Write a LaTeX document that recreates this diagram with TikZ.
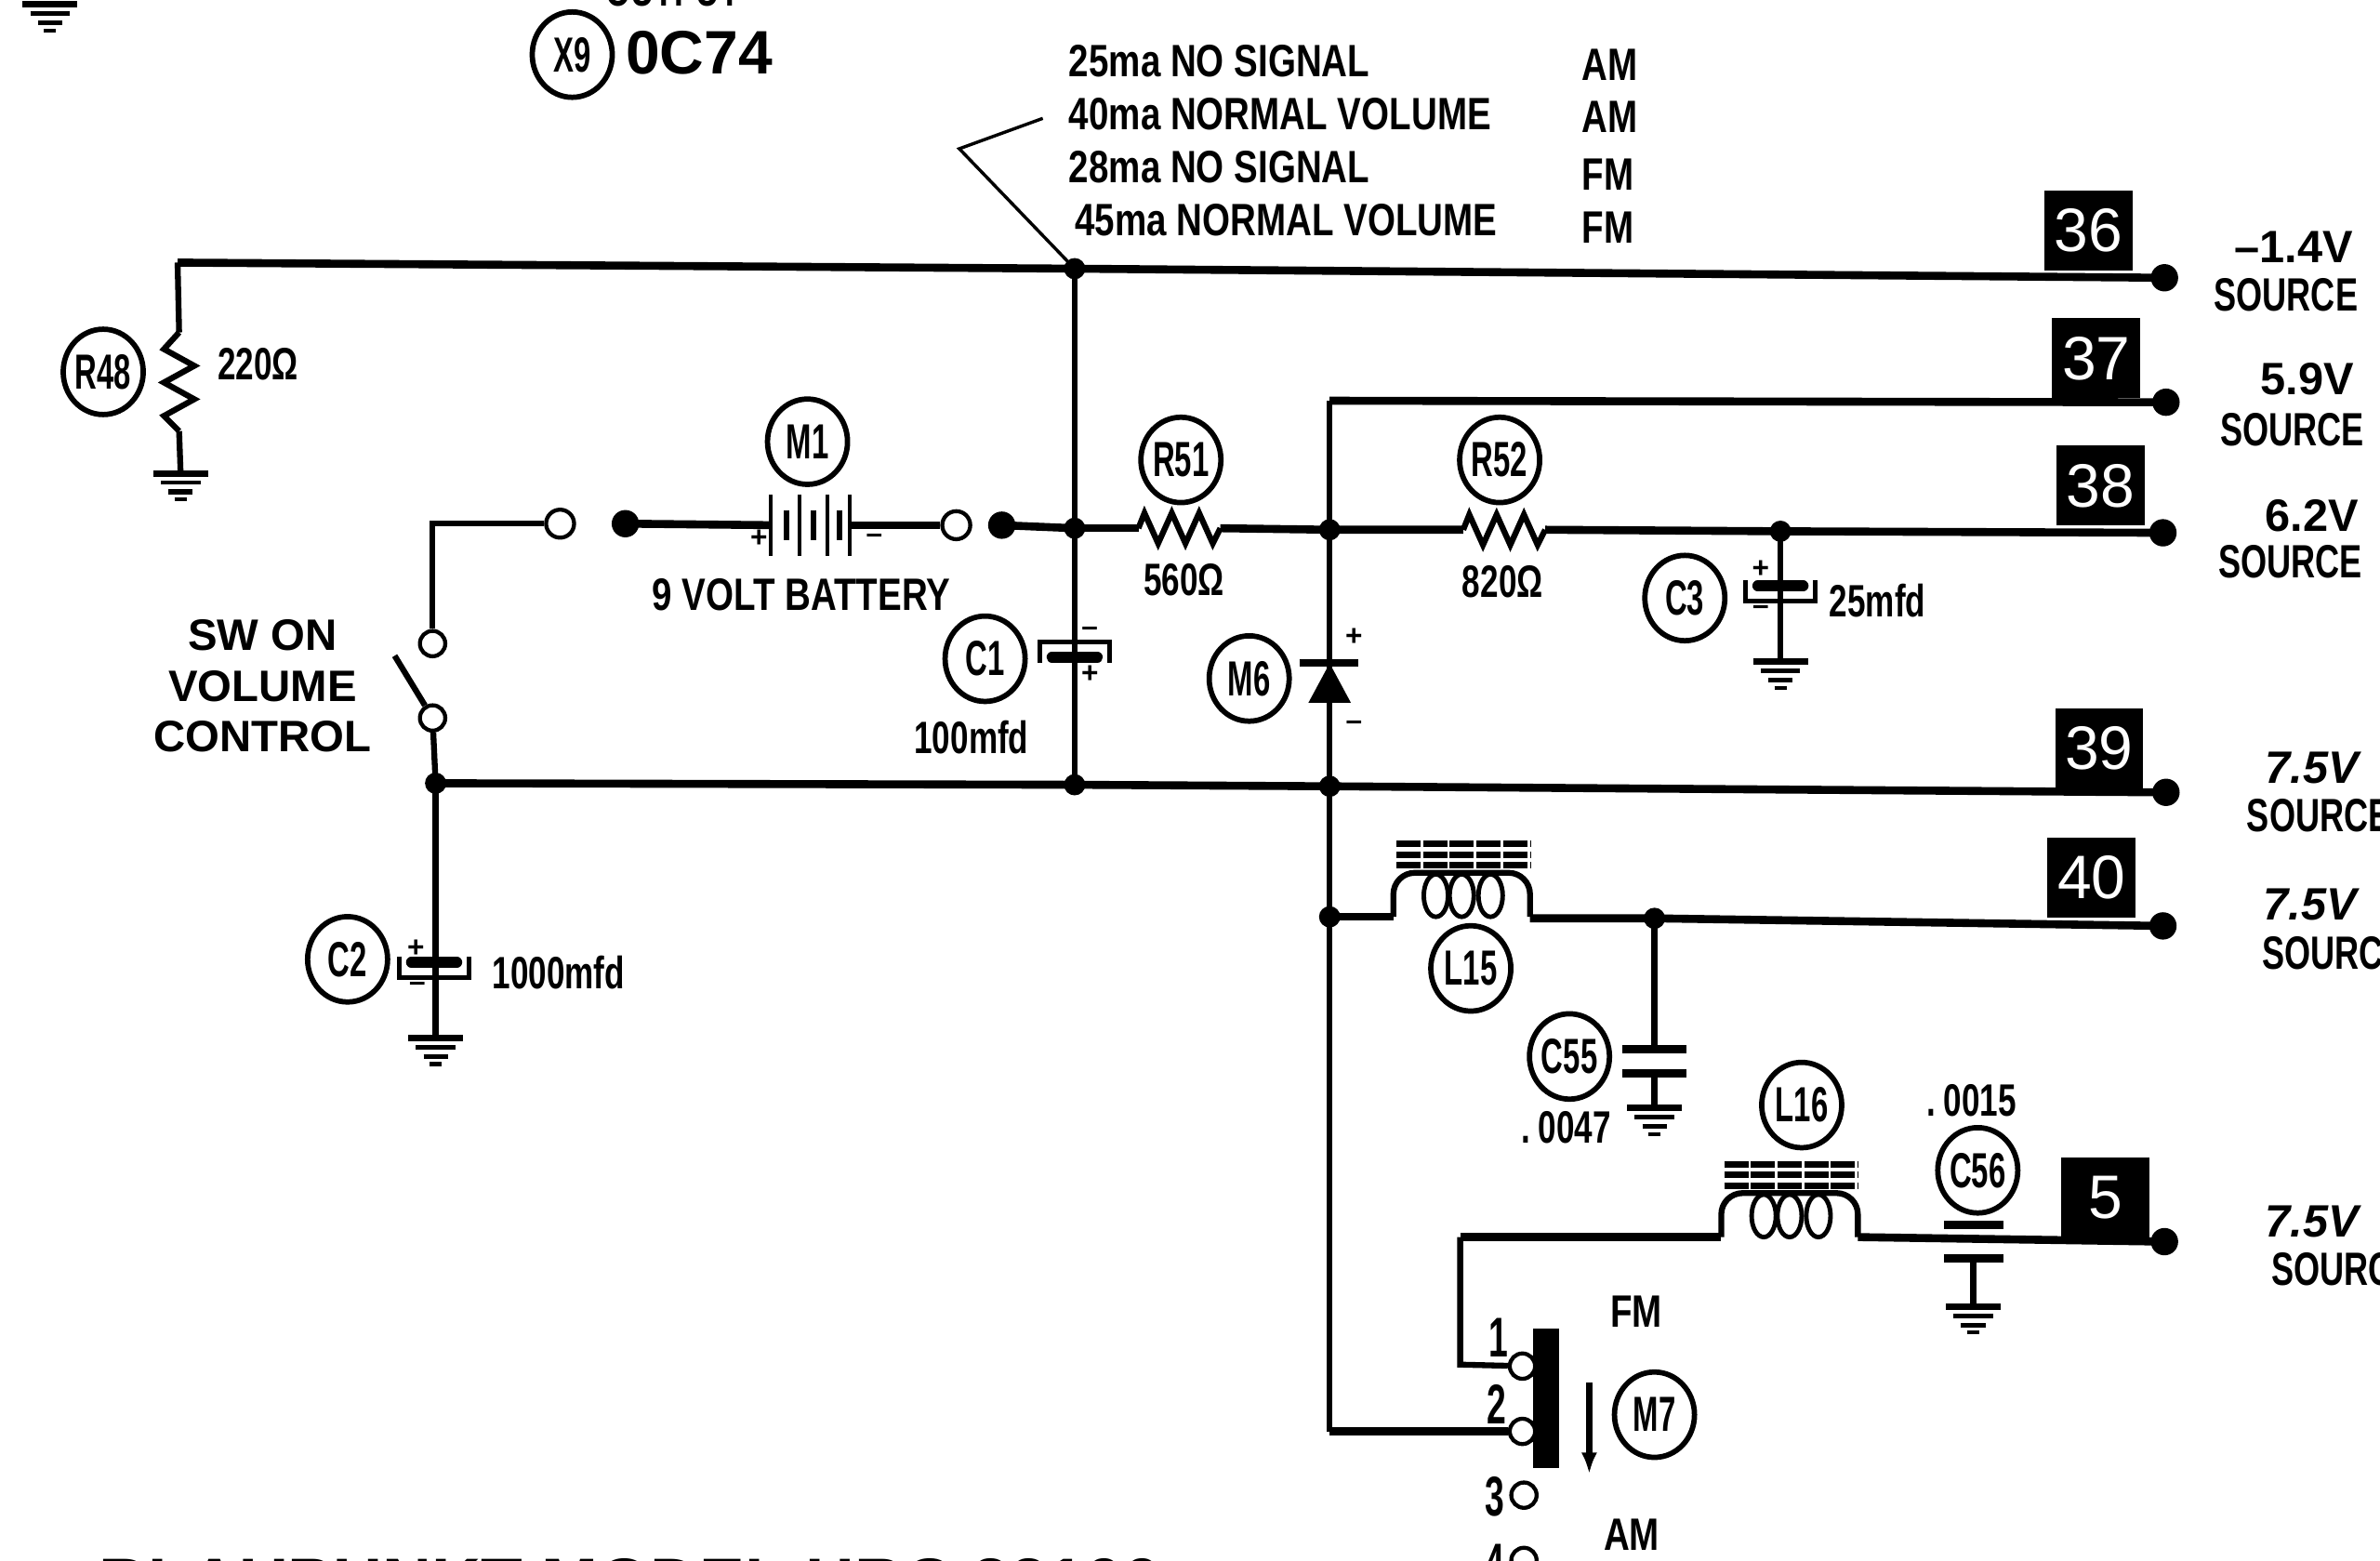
\documentclass[tikz,border=0pt]{standalone}
\usepackage{fontspec}
\setmainfont{Liberation Sans}
\newfontfamily\notefont[FakeStretch=0.79]{Liberation Sans}
\newfontfamily\narrowfont[FakeStretch=0.72]{Liberation Sans}
\newfontfamily\smallfont[FakeStretch=0.62]{Liberation Sans}
\usetikzlibrary{shapes.geometric,arrows.meta}
\tikzset{
  rail/.style={line width=3pt},
  wire/.style={line width=2.2pt},
  thinwire/.style={line width=1.2pt},
  tagc/.style={draw, ellipse, line width=2pt, inner sep=0pt, minimum width=30pt, minimum height=32pt, font=\smallfont\fontsize{18.5}{19}\selectfont\bfseries},
  termbox/.style={fill=black, text=white, inner sep=0pt, minimum width=33pt, minimum height=30pt, font=\fontsize{23}{23}\selectfont},
  openpt/.style={draw, circle, fill=white, line width=1.5pt, inner sep=0pt, minimum size=9.5pt},
  vlabel/.style={inner sep=0pt, font=\narrowfont\fontsize{17.5}{18}\selectfont\bfseries},
  vnum/.style={inner sep=0pt, font=\fontsize{17}{18}\selectfont\bfseries},
  toptext/.style={inner sep=0pt, font=\notefont\fontsize{17}{17}\selectfont\bfseries, anchor=west},
  valtext/.style={inner sep=0pt, font=\narrowfont\fontsize{17}{17}\selectfont\bfseries},
  pintext/.style={inner sep=0pt, font=\smallfont\fontsize{21}{21}\selectfont\bfseries},
  signtext/.style={inner sep=0pt, font=\fontsize{11}{11}\selectfont\bfseries},
  swtext/.style={inner sep=0pt, font=\fontsize{16.5}{19}\selectfont\bfseries},
  gndmark/.pic={
    \draw[line width=2.4pt] (-18,0) -- (18,0);
    \draw[line width=1.6pt] (-13,6) -- (13,6);
    \draw[line width=1.8pt] (-8,12) -- (8,12);
    \draw[line width=1.4pt] (-4,17) -- (4,17);
  },
  zigh/.pic={
    \draw[wire] (0,0) -- (4,-10) -- (13,10) -- (22,-10) -- (31,10) -- (40,-10) -- (49,10) -- (54,0);
  },
  zigv/.pic={
    \draw[wire] (0,0) -- (-10,11) -- (10,22) -- (-10,33) -- (10,44) -- (-10,55) -- (0,65);
  },
  coilmark/.pic={
    \draw[wire, rounded corners=8pt] (0,0) -- (0,-29) -- (90,-29) -- (90,0);
    \foreach \cx in {28,45,64} \draw[line width=1.7pt] (\cx,-14) ellipse [x radius=8, y radius=14];
    \foreach \cy in {34,41,48}
      \draw[line width=2.4pt, dash pattern=on 9pt off 1pt] (2,-\cy) -- (90,-\cy);
  },
  polcap/.pic={
    \draw[line width=1.6pt] (-23,-7) -- (-23,7) -- (23,7) -- (23,-7);
    \draw[line width=4pt, line cap=round] (-15,-3) -- (15,-3);
  },
}
\begin{document}
\begin{tikzpicture}[x=0.2mm, y=-0.2mm]
  \useasboundingbox (0,0) rectangle (1568,1028);

  % Ground mark at the top corner
  \coordinate (gTop) at (33,3);
  \pic at (gTop) {gndmark};

  % Transistor and title text that run off the page
  \node[inner sep=0pt, font=\narrowfont\fontsize{17}{17}\selectfont\bfseries, anchor=base] (outtext) at (443,4) {OUTPUT};
  \node[tagc] (X9) at (377,36) {X9};
  \node[inner sep=0pt, font=\fontsize{23}{23}\selectfont\bfseries, anchor=west] (oc) at (412,35) {0C74};
  \node[inner sep=0pt, font=\fontsize{25.5}{26}\selectfont\bfseries, anchor=base west] (title) at (65,1058) {BLAUPUNKT MODEL HRC 22100};

  % Current notes
  \node[toptext] (n1) at (704,40) {25ma NO SIGNAL};
  \node[toptext] (n2) at (704,75) {40ma NORMAL VOLUME};
  \node[toptext] (n3) at (704,110) {28ma NO SIGNAL};
  \node[toptext] (n4) at (708,145) {45ma NORMAL VOLUME};
  \node[toptext] (n1b) at (1042,43) {AM};
  \node[toptext] (n2b) at (1042,77) {AM};
  \node[toptext] (n3b) at (1042,115) {FM};
  \node[toptext] (n4b) at (1042,150) {FM};

  % Main junctions
  \coordinate (railL) at (117,173);
  \coordinate (jTop) at (708,177);
  \coordinate (jMid) at (708,348);
  \coordinate (jBot) at (708,517);
  \coordinate (jDa) at (876,349);
  \coordinate (jDb) at (876,518);
  \coordinate (jDc) at (876,264);
  \coordinate (jL) at (876,604);
  \coordinate (jSw) at (287,516);
  \coordinate (jC3) at (1173,350);
  \coordinate (jC55) at (1090,605);

  % Terminal dots
  \coordinate (t36) at (1426,183);
  \coordinate (t37) at (1427,265);
  \coordinate (t38) at (1425,351);
  \coordinate (t39) at (1427,522);
  \coordinate (t40) at (1425,610);
  \coordinate (t5) at (1426,818);

  % Terminal boxes
  \node[termbox] (b36) at (1376,152) {36};
  \node[termbox] (b37) at (1381,236) {37};
  \node[termbox] (b38) at (1384,320) {38};
  \node[termbox] (b39) at (1383,493) {39};
  \node[termbox] (b40) at (1378,578) {40};
  \node[termbox] (b5) at (1387,789) {5};

  % Rails
  \coordinate (r51a) at (750,348);
  \coordinate (r51b) at (804,348);
  \coordinate (r52a) at (964,349);
  \coordinate (r52b) at (1018,349);
  \draw[rail] (railL) -- (jTop) -- (t36);
  \draw[rail] (jDc) -- (t37);
  \draw[rail] (jMid) -- (r51a);
  \draw[rail] (r51b) -- (jDa) -- (r52a);
  \draw[rail] (r52b) -- (jC3) -- (t38);
  \draw[rail] (jSw) -- (jBot) -- (jDb) -- (t39);
  \coordinate (coilAl) at (918,604);
  \coordinate (coilAr) at (1008,605);
  \draw[rail] (jL) -- (coilAl);
  \draw[rail] (coilAr) -- (jC55) -- (t40);

  % Verticals
  \draw[wire] (jTop) -- (jBot);
  \draw[wire] (jDc) -- (jL);
  \coordinate (swD) at (876,943);
  \draw[wire] (jL) -- (swD);

  % Leader from the current notes
  \coordinate (leadA) at (687,78);
  \coordinate (leadB) at (632,98);
  \draw[thinwire] (leadA) -- (leadB) -- (jTop);

  % R48 with ground
  \coordinate (r48a) at (118,219);
  \coordinate (r48b) at (118,284);
  \coordinate (g48) at (119,312);
  \draw[wire] (railL) -- (r48a);
  \pic at (r48a) {zigv};
  \draw[wire] (r48b) -- (g48);
  \pic at (g48) {gndmark};
  \node[tagc] (R48) at (68,245) {R48};
  \node[valtext] (v48) at (170,240) {220Ω};

  % Battery branch and on/off switch
  \coordinate (swTop) at (285,345);
  \node[openpt, minimum size=10.5pt] (oA) at (369,345) {};
  \coordinate (dA) at (412,345);
  \coordinate (batL) at (508,346);
  \coordinate (batR) at (560,346);
  \node[openpt, minimum size=10.5pt] (oB) at (630,346) {};
  \coordinate (dB) at (660,346);
  \node[openpt] (oC) at (285,424) {};
  \node[openpt] (oD) at (285,473) {};
  \coordinate (blade) at (260,432);
  \draw[wire] (oC) -- (swTop) -- (oA);
  \draw[rail] (dA) -- (batL);
  \draw[rail] (batR) -- (oB);
  \draw[rail] (dB) -- (jMid);
  \draw[wire] (blade) -- (oD);
  \draw[wire] (oD) -- (jSw);
  \foreach \bx in {508,527,545,560}
    \draw[line width=1.4pt] (\bx,326) -- (\bx,366);
  \foreach \bx in {518,536,553}
    \draw[line width=2.2pt] (\bx,336) -- (\bx,356);
  \node[signtext] (plus) at (500,355) {+};
  \node[signtext] (minus) at (576,355) {--};
  \node[tagc] (M1) at (532,291) {M1};
  \node[toptext, anchor=center] (v9) at (528,392) {9 VOLT BATTERY};
  \node[swtext, align=center] (sw) at (173,452) {SW ON\\VOLUME\\CONTROL};

  % C1
  \coordinate (c1p) at (708,430);
  \pic[yscale=-1] at (c1p) {polcap};
  \node[signtext] (c1m) at (718,416) {--};
  \node[signtext] (c1s) at (718,444) {+};
  \node[tagc] (C1) at (649,434) {C1};
  \node[valtext] (v100) at (640,486) {100mfd};

  % R51, R52, C3
  \pic at (r51a) {zigh};
  \pic at (r52a) {zigh};
  \node[tagc] (R51) at (778,303) {R51};
  \node[valtext] (v560) at (780,382) {560Ω};
  \node[tagc] (R52) at (988,303) {R52};
  \node[valtext] (v820) at (990,383) {820Ω};
  \coordinate (c3p) at (1173,389);
  \coordinate (g3) at (1173,436);
  \draw[wire] (jC3) -- (g3);
  \pic at (c3p) {polcap};
  \pic at (g3) {gndmark};
  \node[signtext] (c3s) at (1160,375) {+};
  \node[signtext] (c3m) at (1160,402) {--};
  \node[tagc] (C3) at (1110,394) {C3};
  \node[valtext] (v25) at (1237,396) {25mfd};

  % Diode M6
  \coordinate (dK) at (876,437);
  \fill (dK) ++(-14,26) -- ++(28,0) -- ++(-14,-26) -- cycle;
  \draw[line width=2.8pt] (856,437) -- (895,437);
  \node[tagc] (M6) at (823,447) {M6};
  \node[signtext] (dp) at (892,420) {+};
  \node[signtext] (dm) at (892,478) {--};

  % C2
  \coordinate (c2p) at (286,637);
  \coordinate (g2) at (287,684);
  \draw[wire] (jSw) -- (g2);
  \pic at (c2p) {polcap};
  \pic at (g2) {gndmark};
  \node[signtext] (c2s) at (274,625) {+};
  \node[signtext] (c2m) at (275,650) {--};
  \node[tagc] (C2) at (229,632) {C2};
  \node[valtext] (v1000) at (368,641) {1000mfd};

  % L15 and C55
  \pic at (coilAl) {coilmark};
  \node[tagc] (L15) at (969,638) {L15};
  \coordinate (c55a) at (1090,691);
  \coordinate (c55b) at (1090,707);
  \coordinate (g55) at (1090,730);
  \draw[wire] (jC55) -- (c55a);
  \draw[wire] (c55b) -- (g55);
  \draw[line width=3.2pt] (1069,691) -- (1111,691);
  \draw[line width=3.2pt] (1069,707) -- (1111,707);
  \pic at (g55) {gndmark};
  \node[tagc] (C55) at (1034,696) {C55};
  \node[valtext] (v47) at (1032,743) {.\,0047};

  % L16 and C56, line from terminal 5
  \coordinate (swC) at (962,815);
  \coordinate (coilBl) at (1134,815);
  \coordinate (coilBr) at (1224,815);
  \draw[rail] (swC) -- (coilBl);
  \draw[rail] (coilBr) -- (t5);
  \pic at (coilBl) {coilmark};
  \node[tagc] (L16) at (1187,728) {L16};
  \node[valtext] (v15) at (1299,725) {.\,0015};
  \node[tagc] (C56) at (1303,771) {C56};
  \coordinate (c56a) at (1300,829);
  \coordinate (g56) at (1300,861);
  \draw[line width=3pt] (1281,807) -- (1320,807);
  \draw[line width=3pt] (1281,829) -- (1320,829);
  \draw[wire] (c56a) -- (g56);
  \pic at (g56) {gndmark};

  % Switch M7
  \node[openpt] (s1) at (1003,900) {};
  \node[openpt] (s2) at (1003,943) {};
  \node[openpt] (s3) at (1004,985) {};
  \node[openpt] (s4) at (1004,1028) {};
  \coordinate (swE) at (962,899);
  \draw[wire] (swC) -- (swE) -- (s1);
  \draw[rail] (swD) -- (s2);
  \fill (1010,875) rectangle (1027,967);
  \coordinate (arrA) at (1047,911);
  \coordinate (arrB) at (1047,971);
  \draw[wire, -{Latex[length=8pt]}] (arrA) -- (arrB);
  \node[tagc] (M7) at (1090,932) {M7};
  \node[pintext] (p1) at (987,881) {1};
  \node[pintext] (p2) at (986,925) {2};
  \node[pintext] (p3) at (985,986) {3};
  \node[pintext] (p4) at (985,1030) {4};
  \node[toptext, anchor=center] (fm) at (1078,864) {FM};
  \node[toptext, anchor=center] (am) at (1075,1011) {AM};

  % Voltage labels
  \node[vnum] (s36a) at (1511,163) {--1.4V};
  \node[vlabel] (s36) at (1506,194) {SOURCE};
  \node[vnum] (s37a) at (1520,250) {5.9V};
  \node[vlabel] (s37) at (1510,283) {SOURCE};
  \node[vnum] (s38a) at (1523,340) {6.2V};
  \node[vlabel] (s38) at (1509,370) {SOURCE};
  \node[vnum, font=\fontsize{17}{18}\selectfont\bfseries\itshape] (s39a) at (1523,506) {7.5V};
  \node[vlabel, anchor=west] (s39) at (1480,537) {SOURCE};
  \node[vnum, font=\fontsize{17}{18}\selectfont\bfseries\itshape] (s40a) at (1522,596) {7.5V};
  \node[vlabel, anchor=west] (s40) at (1490,628) {SOURCE};
  \node[vnum, font=\fontsize{17}{18}\selectfont\bfseries\itshape] (s5a) at (1523,805) {7.5V};
  \node[vlabel, anchor=west] (s5) at (1496,836) {SOURCE};

  % Solder dots
  \foreach \p in {jTop,jMid,jBot,jDa,jDb,jL,jSw,jC3,jC55}
    \fill (\p) circle (7);
  \foreach \p in {dA,dB,t36,t37,t38,t39,t40,t5}
    \fill (\p) circle (9);
\end{tikzpicture}
\end{document}
